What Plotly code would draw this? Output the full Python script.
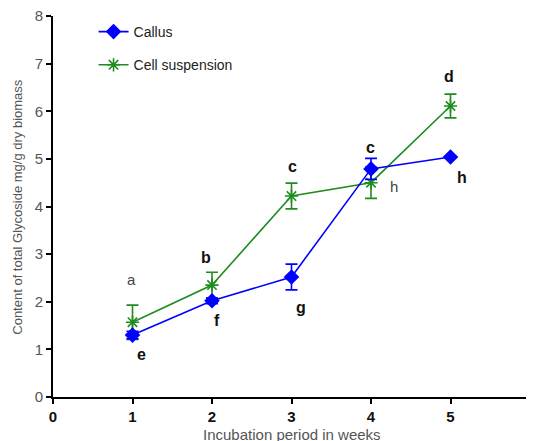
import plotly.graph_objects as go

weeks = [1, 2, 3, 4, 5]
callus = [1.30, 2.02, 2.52, 4.79, 5.04]
callus_err = [0.08, 0.06, 0.27, 0.22, 0.0]
susp = [1.57, 2.35, 4.22, 4.50, 6.11]
susp_err = [0.36, 0.27, 0.27, 0.33, 0.25]

lbl_text = ["a", "b", "c", "c", "d", "e", "f", "g", "h", "h"]
lbl_x = [0.99, 1.93, 3.01, 3.99, 4.98, 1.11, 2.06, 3.12, 4.29, 5.14]
lbl_y = [2.46, 2.92, 4.83, 5.23, 6.72, 0.90, 1.60, 1.87, 4.41, 4.60]
lbl_bold = [False, True, True, True, True, True, True, True, False, True]

BLUE = "#0000ff"
GREEN = "#1e8c1e"

fig = go.Figure()
fig.add_trace(go.Scatter(
    x=weeks, y=susp, name="Cell suspension", mode="lines+markers", legendgroup="s", legendrank=2,
    line=dict(color=GREEN, width=1.6),
    marker=dict(symbol="asterisk-open", size=11, color=GREEN, line=dict(color=GREEN, width=1.6)),
    error_y=dict(type="data", array=susp_err, color=GREEN, thickness=1.6, width=6),
))
fig.add_trace(go.Scatter(
    x=weeks, y=callus, name="Callus", mode="lines+markers", legendgroup="c", legendrank=1,
    line=dict(color=BLUE, width=1.6),
    marker=dict(symbol="diamond", size=12, color=BLUE),
    error_y=dict(type="data", array=callus_err, color=BLUE, thickness=1.6, width=6),
))

for t, x, y, b in zip(lbl_text, lbl_x, lbl_y, lbl_bold):
    fig.add_annotation(
        x=x, y=y, text=f"<b>{t}</b>" if b else t, showarrow=False,
        font=dict(family="Liberation Sans, Arial", size=16 if b else 15,
                  color="#111111" if b else "#444444"),
    )

fig.add_annotation(x=0.5, y=-0.098, xref="paper", yref="paper", yanchor="middle",
                   text="Incubation period in weeks", showarrow=False, borderpad=0,
                   font=dict(size=15, color="#555555"))
fig.add_annotation(x=-0.075, y=0.5, xref="paper", yref="paper", xanchor="center",
                   text="Content of total Glycoside mg/g dry biomass", showarrow=False, textangle=-90,
                   font=dict(size=13, color="#555555"))

fig.update_layout(
    width=534, height=441,
    margin=dict(l=45, r=12, t=8, b=52),
    paper_bgcolor="white", plot_bgcolor="white",
    font=dict(family="Liberation Sans, Arial", color="#333333"),
    showlegend=True,
    legend=dict(x=0.085, y=1.0, xanchor="left", yanchor="top", traceorder="grouped",
                font=dict(size=14, color="#222222"), bgcolor="rgba(0,0,0,0)",
                itemwidth=30, tracegroupgap=12),
    xaxis=dict(range=[0, 6], tickvals=[0, 1, 2, 3, 4, 5, 6],
               ticktext=[f"<b>{v}</b>" for v in range(7)], automargin=False,
               showgrid=False, zeroline=False, showline=True, linecolor="black", linewidth=2,
               ticks="outside", ticklen=5, tickwidth=1.5, tickcolor="black",
               tickfont=dict(size=15, color="#111111")),
    yaxis=dict(range=[0, 8], tickvals=list(range(9)), automargin=False,
               ticklabeloverflow="allow",
               showgrid=False, zeroline=False, showline=True, linecolor="black", linewidth=2,
               ticks="outside", ticklen=5, tickwidth=1.5, tickcolor="black",
               tickfont=dict(size=15, color="#555555")),
)

fig.write_html("out.html")
